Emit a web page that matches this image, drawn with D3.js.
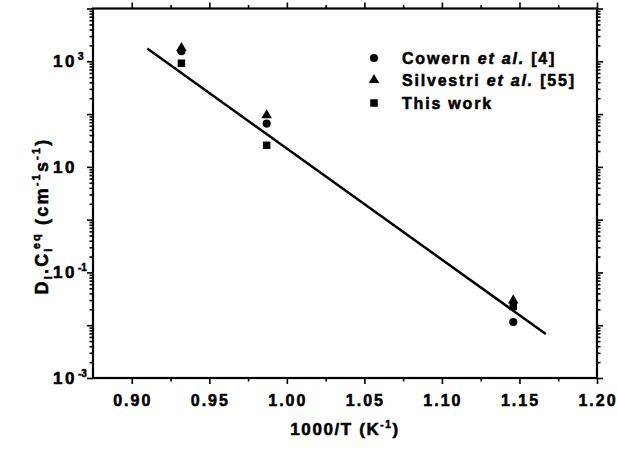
<!DOCTYPE html>
<html>
<head>
<meta charset="utf-8">
<script src="https://cdn.jsdelivr.net/npm/d3@7"></script>
<style>
  body { margin: 0; background: #fff; }
  svg text { font-family: "Liberation Sans", Arial, sans-serif; font-weight: bold; fill: #000;
             stroke: #000; stroke-width: 0.55px; }
</style>
</head>
<body>
<svg id="chart" width="618" height="450"></svg>
<script>
// Inverse temperature (1000/T, K^-1) of the three anneals
const invT = [0.932, 0.987, 1.146];
// D_I * C_I^eq (cm^-1 s^-1) for each source
const cowern = [1550, 66, 0.0115];
const silvestri = [1780, 95, 0.0295];
const thisWork = [920, 25.6, 0.0226];
// Arrhenius fit, given by its two end points
const fitInvT = [0.910, 1.167];
const fitD = [1740, 0.0068];
// Axis ticks
const xMajor = [0.90, 0.95, 1.00, 1.05, 1.10, 1.15, 1.20];
const xMinor = [0.925, 0.975, 1.025, 1.075, 1.125, 1.175];
const yLabelExps = [-3, -1, 1, 3];
const legendNames = [
  ["Cowern ", "et al.", " [4]"],
  ["Silvestri ", "et al.", " [55]"],
  ["This work", "", ""]
];

const plotL = 93, plotR = 597, plotT = 8.5, plotB = 378;
const svg = d3.select("#chart");

const x = d3.scaleLinear().domain([0.875, 1.20]).range([plotL, plotR]);
const y = d3.scaleLog().domain([1e-3, 1e4]).range([plotB, plotT]);

// major decades and minor (2..9) log ticks
const yMajor = d3.range(-3, 5).map(e => Math.pow(10, e));
const yMinor = [];
for (let e = -3; e < 4; e++) for (let m = 2; m <= 9; m++) yMinor.push(m * Math.pow(10, e));

function tickAxis(gen, vals, size, tx, ty) {
  const g = svg.append("g").attr("transform", `translate(${tx},${ty})`)
    .call(gen.tickValues(vals).tickSize(size).tickSizeOuter(0).tickFormat(""));
  g.select(".domain").remove();
  g.selectAll("line").attr("stroke", "#000").attr("stroke-width", 1.6);
  return g;
}
// bottom (outward) and top (inward)
tickAxis(d3.axisBottom(x), xMajor, 6, 0, plotB);
tickAxis(d3.axisBottom(x), xMinor, 3.5, 0, plotB);
tickAxis(d3.axisBottom(x), xMajor, -6, 0, plotT);
tickAxis(d3.axisBottom(x), xMinor, -3.5, 0, plotT);
// left (outward) and right (inward)
tickAxis(d3.axisLeft(y), yMajor, 6, plotL, 0);
tickAxis(d3.axisLeft(y), yMinor, 3.5, plotL, 0);
tickAxis(d3.axisLeft(y), yMajor, -6, plotR, 0);
tickAxis(d3.axisLeft(y), yMinor, -3.5, plotR, 0);

// frame
svg.append("rect").attr("x", plotL).attr("y", plotT)
  .attr("width", plotR - plotL).attr("height", plotB - plotT)
  .attr("fill", "none").attr("stroke", "#000").attr("stroke-width", 2.2);

// x tick labels
svg.append("g").selectAll("text").data(xMajor).join("text")
  .attr("x", d => x(d) + 1)
  .attr("y", 406)
  .attr("text-anchor", "middle")
  .style("font-size", "16px")
  .style("letter-spacing", "2px")
  .text(d => d.toFixed(2));

// y tick labels: 10 with superscript exponent
const yl = svg.append("g").selectAll("g").data(yLabelExps).join("g");
yl.append("text")
  .attr("x", 77).attr("y", d => y(Math.pow(10, d)) + 6)
  .attr("text-anchor", "end")
  .style("font-size", "17px").style("letter-spacing", "2.5px")
  .text("10");
yl.filter(d => d !== 1).append("text")
  .attr("x", 78).attr("y", d => y(Math.pow(10, d)) - 1)
  .style("font-size", "10px")
  .text(d => d < 0 ? "-" + (-d) : String(d));

// axis titles
const xt = svg.append("text").attr("x", 345).attr("y", 435)
  .attr("text-anchor", "middle").style("font-size", "17px").style("letter-spacing", "1.6px");
xt.append("tspan").text("1000/T (K");
xt.append("tspan").attr("dy", -7).style("font-size", "10px").text("-1");
xt.append("tspan").attr("dy", 7).text(")");

const yt = svg.append("text").attr("transform", "translate(48,216) rotate(-90)")
  .attr("text-anchor", "middle").style("font-size", "18px").style("letter-spacing", "2.2px");
yt.append("tspan").text("D");
yt.append("tspan").attr("dy", 4).style("font-size", "11px").text("I");
yt.append("tspan").attr("dy", -4).text(".C");
yt.append("tspan").attr("dy", 4).style("font-size", "11px").text("I");
yt.append("tspan").attr("dy", -12).attr("dx", -3).style("font-size", "11px").text("eq");
yt.append("tspan").attr("dy", 8).text(" (cm");
yt.append("tspan").attr("dy", -8).style("font-size", "11px").text("-1");
yt.append("tspan").attr("dy", 8).text("s");
yt.append("tspan").attr("dy", -8).style("font-size", "11px").text("-1");
yt.append("tspan").attr("dy", 8).text(")");

// fit line
svg.append("line")
  .attr("x1", x(fitInvT[0])).attr("y1", y(fitD[0]))
  .attr("x2", x(fitInvT[1])).attr("y2", y(fitD[1]))
  .attr("stroke", "#000").attr("stroke-width", 2.5);

// marker shapes
const sym = {
  circle: d3.symbol().type(d3.symbolCircle).size(52),
  triangle: d3.symbol().type(d3.symbolTriangle).size(48),
  square: d3.symbol().type(d3.symbolSquare).size(56)
};
const series = [
  { vals: cowern, shape: "circle" },
  { vals: silvestri, shape: "triangle" },
  { vals: thisWork, shape: "square" }
];
series.forEach(s => {
  svg.append("g").selectAll("path").data(s.vals).join("path")
    .attr("transform", (d, i) => `translate(${x(invT[i])},${y(d)})`)
    .attr("d", sym[s.shape]())
    .attr("fill", "#000");
});

// legend
const legendY = [58, 80, 103];
series.forEach((s, i) => {
  svg.append("path")
    .attr("transform", `translate(374,${legendY[i]})`)
    .attr("d", sym[s.shape]())
    .attr("fill", "#000");
  const t = svg.append("text").attr("x", 402).attr("y", legendY[i] + 5.5)
    .style("font-size", "16px").style("letter-spacing", "1.8px");
  t.append("tspan").text(legendNames[i][0]);
  if (legendNames[i][1]) t.append("tspan").style("font-style", "italic").text(legendNames[i][1]);
  if (legendNames[i][2]) t.append("tspan").text(legendNames[i][2]);
});
</script>
</body>
</html>
